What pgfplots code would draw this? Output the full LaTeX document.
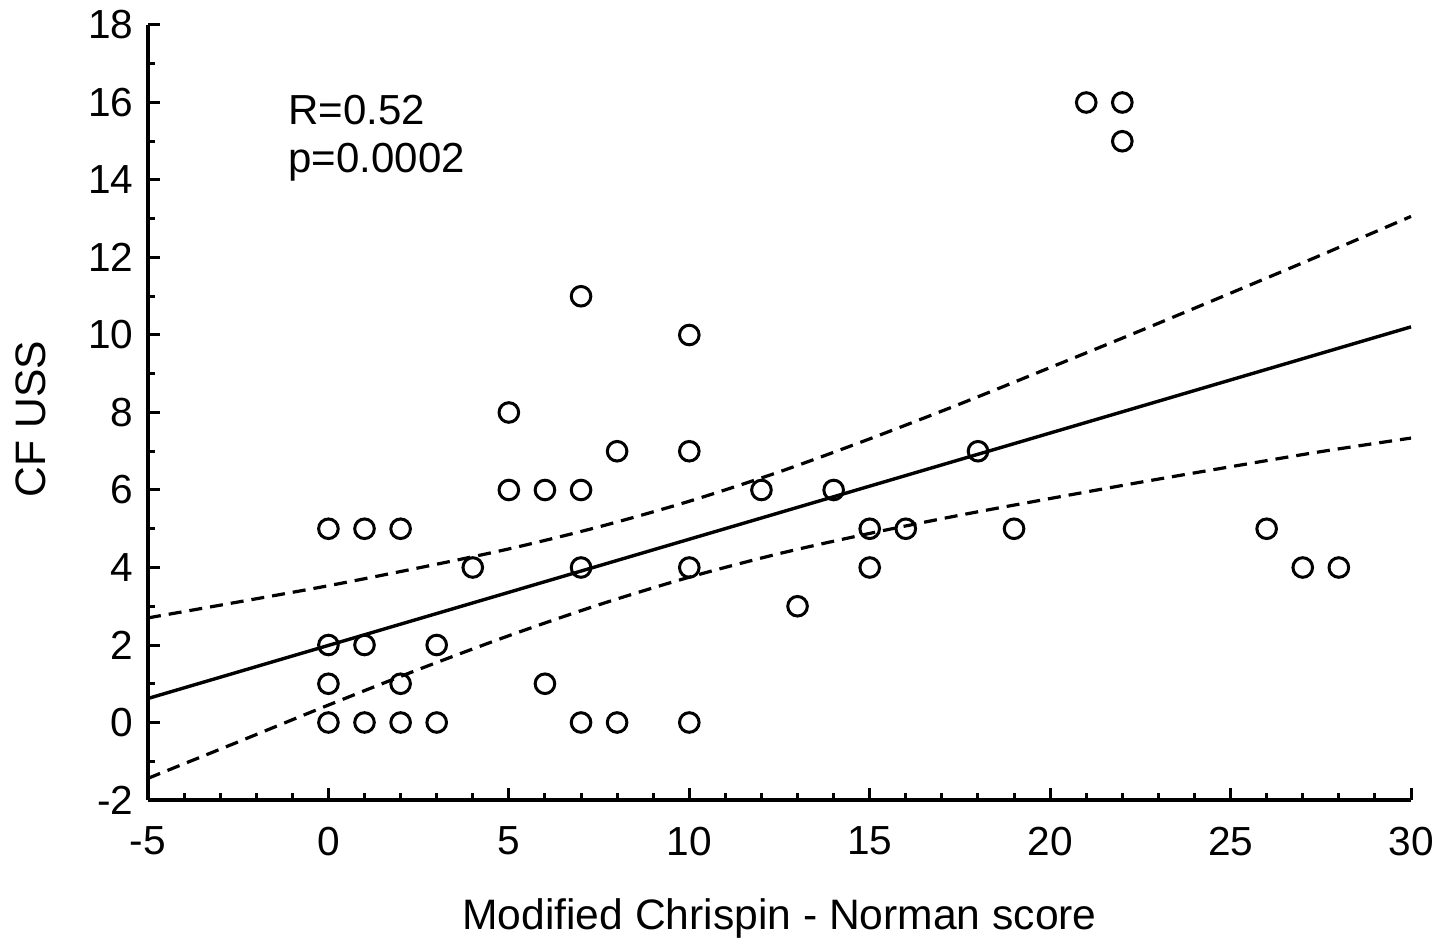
\documentclass[border=0pt]{standalone}
\usepackage{fontspec}
\setmainfont{Liberation Sans}
\usepackage{pgfplots}
\pgfplotsset{compat=1.18}
\begin{document}
\begin{tikzpicture}
\path[use as bounding box] (-74bp,-70.5bp) rectangle (652.5bp,400bp);
\begin{axis}[
  scale only axis,
  width=631.5bp, height=387.5bp,
  xmin=-5, xmax=30, ymin=-2, ymax=18,
  axis x line*=bottom, axis y line*=left,
  axis line style={line width=1.7bp},
  xtick={-5,0,...,30}, ytick={-2,0,...,18},
  minor x tick num=4, minor y tick num=1,
  tick align=inside,
  major tick length=6bp, minor tick length=3.5bp,
  every tick/.style={black, line width=1.5bp},
  /pgf/number format/assume math mode=true,
  tick label style={font=\fontsize{20.3bp}{24bp}\selectfont},
  xticklabel style={yshift=-10bp},
  yticklabel style={xshift=-3.8bp},
  label style={font=\fontsize{21.3bp}{24bp}\selectfont},
  xlabel={Modified Chrispin - Norman score},
  xlabel style={at={(axis description cs:0.5,-0.1677)}, anchor=base},
  ylabel={CF USS},
  ylabel style={at={(axis description cs:-0.0926,0.4916)}, anchor=center},
  clip=false,
]
\addplot[only marks, mark=o, mark size=4.9bp, mark options={line width=1.5bp, black}] coordinates {
(0,5) (1,5) (2,5) (0,2) (1,2) (3,2) (0,1) (2,1) (0,0) (1,0) (2,0) (3,0)
(4,4) (5,8) (5,6) (6,6) (7,6) (7,11) (7,4) (6,1) (7,0) (8,0) (8,7)
(10,10) (10,7) (10,4) (10,0) (12,6) (13,3) (14,6) (15,5) (15,4) (16,5)
(18,7) (19,5) (21,16) (22,16) (22,15) (26,5) (27,4) (28,4)
};
\addplot[black, line width=1.7bp] coordinates {(-5,0.62) (30,10.21)};
\addplot[black, line width=1.6bp, dash pattern=on 6.5bp off 4bp, smooth] coordinates {
(-5,2.70) (-2.5,3.11) (0,3.53) (2.5,3.99) (5,4.48) (7.5,5.05) (10,5.71)
(12.5,6.47) (15,7.32) (17.5,8.22) (20,9.16) (22.5,10.11) (25,11.08) (27.5,12.06) (30,13.06)
};
\addplot[black, line width=1.6bp, dash pattern=on 6.5bp off 4bp, smooth] coordinates {
(-5,-1.44) (-2.5,-0.50) (0,0.45) (2.5,1.37) (5,2.24) (7.5,3.04) (10,3.75)
(12.5,4.36) (15,4.88) (17.5,5.35) (20,5.78) (22.5,6.20) (25,6.60) (27.5,6.99) (30,7.34)
};
\node[anchor=base west, font=\fontsize{21bp}{24bp}\selectfont, inner sep=0pt] at (axis cs:-1.12,15.42) {R=0.52};
\node[anchor=base west, font=\fontsize{21bp}{24bp}\selectfont, inner sep=0pt] at (axis cs:-1.12,14.19) {p=0.0002};
\end{axis}
\end{tikzpicture}
\end{document}
